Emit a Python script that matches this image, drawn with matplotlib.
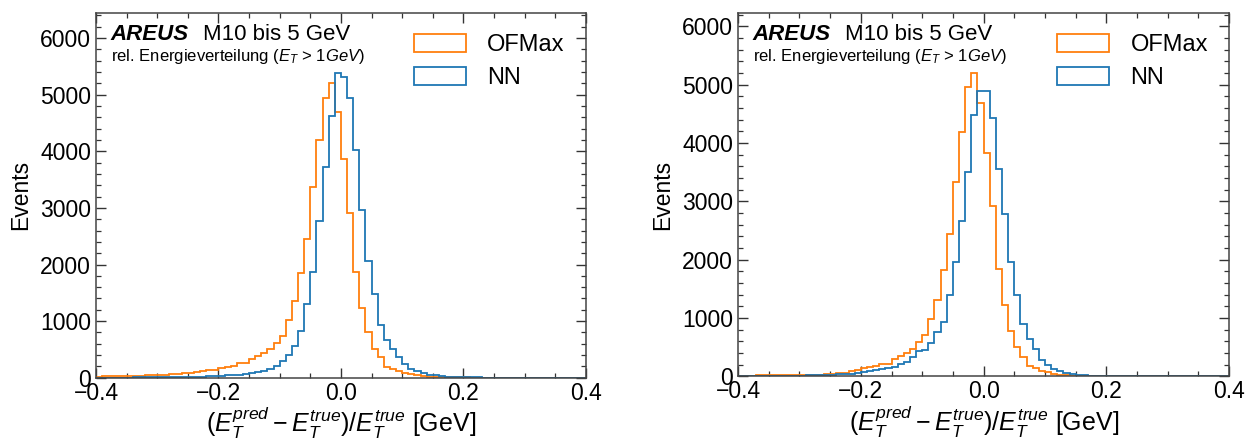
import numpy as np
import matplotlib
matplotlib.use("Agg")
import matplotlib.pyplot as plt
from matplotlib.ticker import MultipleLocator

plt.rcParams["font.family"] = ["Liberation Sans", "DejaVu Sans"]
plt.rcParams["mathtext.fontset"] = "custom"
plt.rcParams["mathtext.rm"] = "Liberation Sans"
plt.rcParams["mathtext.it"] = "Liberation Sans:italic"
plt.rcParams["mathtext.bf"] = "Liberation Sans:bold"

# ---------------------------------------------------------------------------
# data: counts per bin, 80 bins of width 0.01 from -0.4 to 0.4
# ---------------------------------------------------------------------------
bin_edges = np.round(np.arange(-0.40, 0.4001, 0.01), 3)

# left panel
ofmax_left = [
    20, 22, 25, 27, 30, 32, 35, 38, 40, 45,
    50, 55, 60, 70, 80, 90, 100, 115, 130, 145,
    170, 192, 215, 255, 252, 326, 380, 440, 507, 615,
    730, 1013, 1350, 1842, 2446, 3364, 4192, 4950, 5204, 4696,
    3867, 2908, 1872, 1233, 810, 515, 358, 195, 155, 119,
    89, 66, 43, 30, 20, 15, 10, 8, 6, 5,
    4, 3, 2, 2, 1, 1, 1, 0, 0, 0,
    0, 0, 0, 0, 0, 0, 0, 0, 0, 0,
]
nn_left = [
    2, 2, 2, 3, 3, 3, 4, 4, 5, 5,
    6, 7, 8, 10, 12, 14, 17, 20, 24, 28,
    33, 40, 46, 55, 65, 80, 95, 115, 150, 215,
    290, 410, 563, 829, 1310, 1870, 2771, 3715, 4625, 5376,
    5305, 4945, 4027, 2961, 2060, 1487, 940, 660, 500, 358,
    238, 160, 113, 78, 53, 40, 30, 20, 15, 10,
    7, 5, 4, 3, 2, 2, 1, 1, 1, 1,
    0, 0, 0, 0, 0, 0, 0, 0, 0, 0,
]

# right panel
ofmax_right = [
    10, 10, 11, 12, 13, 14, 15, 16, 17, 18,
    19, 21, 23, 26, 30, 38, 46, 55, 81, 104,
    132, 155, 173, 213, 213, 288, 345, 403, 460, 592,
    707, 984, 1311, 1817, 2439, 3336, 4188, 4953, 5194, 4688,
    3831, 2922, 1846, 1214, 780, 495, 334, 175, 132, 92,
    63, 35, 23, 15, 10, 8, 6, 5, 4, 3,
    2, 2, 1, 1, 1, 0, 0, 0, 0, 0,
    0, 0, 0, 0, 0, 0, 0, 0, 0, 0,
]
nn_right = [
    3, 3, 4, 4, 5, 5, 6, 7, 8, 9,
    10, 12, 15, 18, 22, 27, 32, 38, 45, 52,
    63, 86, 104, 115, 132, 161, 201, 247, 334, 425,
    449, 575, 765, 926, 1398, 1956, 2663, 3509, 4475, 4889,
    4889, 4429, 3555, 2790, 1962, 1386, 890, 633, 460, 276,
    190, 121, 86, 58, 35, 23, 15, 10, 8, 6,
    5, 4, 3, 2, 2, 1, 1, 1, 1, 1,
    0, 0, 0, 0, 0, 0, 0, 0, 0, 0,
]

panels = [(ofmax_left, nn_left), (ofmax_right, nn_right)]
axes_rects = [
    [0.0766, 0.1435, 0.391, 0.828],
    [0.589, 0.147, 0.392, 0.824],
]

fig = plt.figure(figsize=(12.53, 4.41), dpi=100)
centers = 0.5 * (bin_edges[:-1] + bin_edges[1:])

for rect, (ofmax, nn) in zip(axes_rects, panels):
    ax = fig.add_axes(rect)
    ax.hist(centers, bins=bin_edges, weights=ofmax, histtype="step",
            color="#ff7f0e", linewidth=1.3, label="OFMax")
    ax.hist(centers, bins=bin_edges, weights=nn, histtype="step",
            color="#1f77b4", linewidth=1.3, label="NN")

    ymax = max(max(ofmax), max(nn))
    ax.set_xlim(-0.4, 0.4)
    ax.set_ylim(0, 1.2 * ymax)

    ax.xaxis.set_major_locator(MultipleLocator(0.2))
    ax.xaxis.set_minor_locator(MultipleLocator(0.05))
    ax.yaxis.set_major_locator(MultipleLocator(1000))
    ax.yaxis.set_minor_locator(MultipleLocator(200))
    ax.tick_params(which="both", direction="in", top=True, right=True,
                   labelsize=16.5, color="#333333")
    ax.tick_params(axis="x", pad=3)
    ax.tick_params(which="major", length=7, width=1.0)
    ax.tick_params(which="minor", length=3.8, width=0.9)
    for sp in ax.spines.values():
        sp.set_color("#444444")
        sp.set_linewidth(1.1)

    ax.set_xlabel(r"$(E_T^{pred} - E_T^{true})/E_T^{true}$ [GeV]",
                  fontsize=18, labelpad=0)
    ax.set_ylabel("Events", fontsize=16.5, labelpad=6)

    ax.text(0.03, 0.925, "AREUS", transform=ax.transAxes, fontsize=16,
            fontweight="bold", fontstyle="italic", va="baseline")
    ax.text(0.218, 0.925, "M10 bis 5 GeV", transform=ax.transAxes,
            fontsize=16, va="baseline")
    ax.text(0.03, 0.866, r"rel. Energieverteilung ($E_T$ > $1 GeV$)",
            transform=ax.transAxes, fontsize=12, va="baseline")

    ax.legend(loc="upper right", fontsize=17, frameon=False,
              handlelength=2.2, handleheight=0.8, handletextpad=0.9,
              labelspacing=0.45, borderaxespad=0.5)

fig.savefig("out.png", dpi=100)
